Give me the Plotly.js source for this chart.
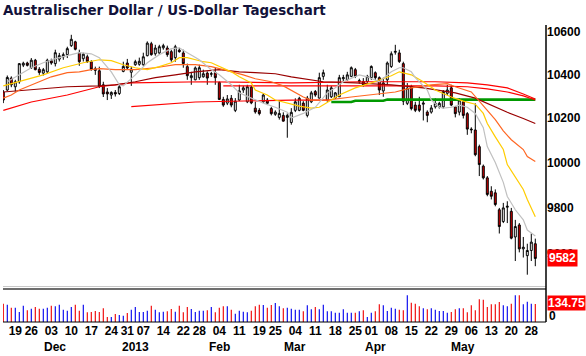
<!DOCTYPE html>
<html><head><meta charset="utf-8">
<script src="https://cdn.plot.ly/plotly-3.0.1.min.js"></script>
<style>html,body{margin:0;padding:0;background:#fff}</style>
</head><body><div id="chart" style="width:586px;height:356px"></div>
<script>
const dates = [
'2012-11-14','2012-11-15','2012-11-16','2012-11-19','2012-11-20','2012-11-21','2012-11-23','2012-11-26','2012-11-27','2012-11-28','2012-11-29','2012-11-30',
'2012-12-03','2012-12-04','2012-12-05','2012-12-06','2012-12-07','2012-12-10','2012-12-11','2012-12-12','2012-12-13','2012-12-14','2012-12-17','2012-12-18','2012-12-19','2012-12-20','2012-12-21','2012-12-24','2012-12-26','2012-12-27','2012-12-28','2012-12-31',
'2013-01-02','2013-01-03','2013-01-04','2013-01-07','2013-01-08','2013-01-09','2013-01-10','2013-01-11','2013-01-14','2013-01-15','2013-01-16','2013-01-17','2013-01-18','2013-01-22','2013-01-23','2013-01-24','2013-01-25','2013-01-28','2013-01-29','2013-01-30','2013-01-31',
'2013-02-01','2013-02-04','2013-02-05','2013-02-06','2013-02-07','2013-02-08','2013-02-11','2013-02-12','2013-02-13','2013-02-14','2013-02-15','2013-02-19','2013-02-20','2013-02-21','2013-02-22','2013-02-25','2013-02-26','2013-02-27','2013-02-28',
'2013-03-01','2013-03-04','2013-03-05','2013-03-06','2013-03-07','2013-03-08','2013-03-11','2013-03-12','2013-03-13','2013-03-14','2013-03-15','2013-03-18','2013-03-19','2013-03-20','2013-03-21','2013-03-22','2013-03-25','2013-03-26','2013-03-27','2013-03-28',
'2013-04-01','2013-04-02','2013-04-03','2013-04-04','2013-04-05','2013-04-08','2013-04-09','2013-04-10','2013-04-11','2013-04-12','2013-04-15','2013-04-16','2013-04-17','2013-04-18','2013-04-19','2013-04-22','2013-04-23','2013-04-24','2013-04-25','2013-04-26','2013-04-29','2013-04-30',
'2013-05-01','2013-05-02','2013-05-03','2013-05-06','2013-05-07','2013-05-08','2013-05-09','2013-05-10','2013-05-13','2013-05-14','2013-05-15','2013-05-16','2013-05-17','2013-05-20','2013-05-21','2013-05-22','2013-05-23','2013-05-24','2013-05-28','2013-05-29'];

const open = [10319,10328,10383,10343,10366,10443,10453,10430,10466,10424,10406,10412,10464,10450,10471,10481,10492,10534,10552,10500,
10473,10482,10459,10426,10417,10352,10319,10305,10317,10312,10414,10453,10410,10445,10447,10445,10487,10543,10496,10500,
10524,10523,10506,10478,10513,10500,10436,10385,10375,10385,10389,10406,10401,10408,10363,10285,10268,10290,10235,10282,
10328,10274,10341,10245,10235,10274,10282,10243,10217,10203,10212,10203,10180,10235,10235,10268,10212,10274,10321,10291,
10391,10282,10297,10291,10297,10380,10375,10391,10422,10366,10367,10367,10385,10408,10385,10324,10375,10437,10503,10500,
10450,10267,10344,10259,10259,10263,10227,10227,10251,10251,10251,10313,10338,10251,10227,10274,10220,10150,10146,10071,
9984,9932,9873,9866,9792,9741,9803,9785,9674,9726,9623,9594,9616,9645];
const high = [10328,10395,10391,10375,10453,10459,10459,10476,10472,10434,10430,10473,10473,10515,10500,10502,10529,10585,10557,10515,
10501,10492,10466,10436,10436,10366,10337,10322,10328,10352,10459,10472,10436,10468,10478,10501,10554,10552,10538,10538,
10543,10534,10515,10538,10524,10515,10450,10412,10437,10445,10422,10414,10412,10431,10367,10297,10305,10305,10291,10352,
10347,10352,10347,10274,10245,10313,10291,10251,10235,10277,10226,10221,10245,10290,10297,10277,10301,10324,10328,10408,
10422,10352,10347,10319,10398,10398,10412,10437,10430,10380,10383,10398,10442,10414,10391,10385,10460,10507,10538,10515,
10459,10360,10352,10274,10297,10282,10235,10259,10290,10274,10328,10352,10352,10254,10290,10282,10227,10158,10267,10080,
9991,9940,9895,9881,9800,9822,9829,9800,9748,9734,9674,9645,9689,9667];
const low = [10268,10324,10341,10321,10357,10434,10437,10425,10419,10398,10395,10403,10445,10437,10460,10468,10476,10528,10512,10440,
10460,10453,10417,10398,10337,10296,10282,10287,10298,10305,10410,10425,10347,10440,10440,10440,10484,10487,10487,10492,
10515,10482,10459,10459,10501,10431,10375,10352,10373,10375,10385,10352,10389,10352,10282,10251,10259,10249,10227,10277,
10315,10268,10263,10220,10212,10269,10259,10212,10210,10193,10184,10111,10170,10227,10231,10231,10203,10268,10297,10289,
10375,10274,10291,10287,10296,10367,10371,10387,10383,10357,10344,10361,10375,10375,10305,10297,10352,10430,10492,10453,
10259,10259,10235,10227,10227,10189,10181,10220,10243,10243,10243,10305,10254,10203,10212,10198,10124,10131,10028,9940,
9925,9851,9837,9807,9689,9734,9734,9664,9571,9608,9586,9513,9571,9549];
const close = [10282,10386,10352,10366,10450,10452,10442,10466,10422,10409,10422,10466,10453,10501,10487,10492,10520,10564,10517,10459,
10494,10459,10424,10419,10344,10310,10310,10317,10310,10343,10437,10430,10425,10459,10461,10482,10546,10492,10523,10529,
10534,10492,10468,10529,10506,10450,10394,10394,10430,10431,10403,10383,10403,10385,10285,10259,10287,10259,10277,10324,
10338,10343,10269,10228,10220,10305,10267,10220,10227,10221,10186,10212,10226,10274,10290,10235,10291,10315,10305,10385,
10408,10328,10338,10315,10385,10385,10398,10431,10391,10371,10352,10391,10437,10385,10328,10361,10453,10496,10507,10460,
10277,10337,10243,10235,10235,10268,10212,10246,10267,10267,10321,10328,10259,10220,10282,10212,10150,10147,10035,9991,
9932,9859,9851,9815,9719,9800,9807,9669,9719,9623,9630,9616,9652,9582];
const volume = [137.5,130,107.5,107.5,75,122.5,87.5,100,112.5,100,100,107.5,122.5,117.5,130,92.5,85,112.5,130,85,
130,72.5,75,82.5,75,102.5,37.5,37.5,60,52.5,47.5,67.5,92.5,112.5,75,75,85,122.5,92.5,72.5,
77.5,80,97.5,77.5,122.5,72.5,112.5,97.5,75,85,85,87.5,112.5,72.5,107.5,117.5,117.5,92.5,62.5,85,
77.5,72.5,85,117.5,130,127.5,107.5,127.5,142.5,117.5,102.5,107.5,100,92.5,92.5,80,125,95,112.5,95,
130,80,80,70,70,95,70,70,70,80,87.5,37.5,70,80,132.5,125,82.5,107.5,100,92.5,
87.5,200,145,137.5,117.5,102.5,95,102.5,92.5,82.5,82.5,70,75,95,102.5,102.5,72.5,125,87.5,170,
167.5,112.5,132.5,132.5,150,125,117.5,137.5,200,200,132.5,152.5,137.5,134.75];

// moving averages / lines at selected bars (bar index -> value)
const grayIdx = [1,4,7,10,13,16,19,22,24,27,29,30,33,36,39,42,44,46,49,52,54,57,59,62,65,68,71,72,75,78,80,81,83,85,89,91,94,97,99,100,102,103,106,107,109,110,112,114,116,118,120,121,123,125,126,128,130,131,132,133];
const grayVal = [10366,10398,10431,10454,10473,10487,10501,10496,10478,10412,10352,10347,10398,10454,10492,10520,10524,10501,10468,10422,10398,10352,10315,10291,10268,10249,10226,10200,10221,10249,10291,10315,10338,10366,10398,10389,10366,10412,10431,10431,10412,10385,10328,10282,10249,10245,10249,10259,10249,10221,10156,10071,10000,9912,9850,9792,9748,9704,9691,9678];
const yellowIdx = [0,5,10,15,20,24,27,30,33,36,39,42,44,46,50,52,54,57,59,62,63,66,68,71,74,77,79,82,84,88,92,97,99,102,105,108,112,115,118,120,121,123,125,126,128,130,131,133];
const yellowVal = [10347,10371,10398,10431,10454,10468,10464,10445,10431,10422,10436,10454,10478,10478,10459,10454,10436,10412,10389,10361,10328,10305,10282,10268,10254,10245,10249,10282,10305,10338,10361,10394,10412,10398,10366,10328,10296,10277,10263,10221,10175,10115,10058,9991,9938,9881,9837,9762];
const orangeIdx = [0,2,4,7,10,12,16,19,22,24,28,33,38,43,48,52,55,60,63,67,70,72,75,77,81,87,91,95,98,102,107,111,113,117,120,123,125,127,130,131,133];
const orangeVal = [10291,10305,10328,10352,10375,10389,10408,10412,10422,10427,10422,10422,10431,10445,10445,10436,10422,10398,10380,10366,10347,10328,10296,10282,10282,10296,10305,10315,10319,10338,10352,10357,10343,10319,10254,10193,10142,10102,10058,10027,10005];
const darkRedIdx = [0,7,16,24,28,33,38,43,48,54,59,63,68,72,80,88,97,105,109,113,118,122,126,130,133];
const darkRedVal = [10319,10328,10343,10347,10352,10366,10385,10398,10412,10422,10412,10408,10403,10389,10366,10361,10352,10338,10328,10315,10291,10259,10226,10198,10175];
const redAIdx = [0,7,16,24,32,50,72,90,108,116,121,126,130,133];
const redAVal = [10235,10273,10305,10343,10361,10366,10361,10366,10366,10361,10352,10338,10310,10287];
const redBIdx = [55,72,90,108,116,121,126,130,133];
const redBVal = [10347,10347,10347,10347,10343,10333,10319,10301,10282];
const redCIdx = [32,48,72,82];
const redCVal = [10252,10273,10282,10282];
const greenIdx = [82,87,88,95,96,133];
const greenVal = [10273,10273,10279,10279,10284,10284];

const tickDates = ['2012-11-19','2012-11-26','2012-12-03','2012-12-10','2012-12-17','2012-12-24','2012-12-31','2013-01-07','2013-01-14','2013-01-22','2013-01-28','2013-02-04','2013-02-11','2013-02-19','2013-02-25','2013-03-04','2013-03-11','2013-03-18','2013-03-25','2013-04-01','2013-04-08','2013-04-15','2013-04-22','2013-04-29','2013-05-06','2013-05-13','2013-05-20','2013-05-28'];
const tickLabels = ['19','26','03','10','17','24','31','07','14','22','28','04','11','19','25','04','11','18','25','01','08','15','22','29','06','13','20','28'];
const monthDates = ['2012-12-03','2013-01-02','2013-02-01','2013-03-01','2013-04-01','2013-05-01'];
const monthLabels = ['Dec','2013','Feb','Mar','Apr','May'];
const priceTicks = [9600,9800,10000,10200,10400,10600];
const lastClose = 9582;
const lastVolume = 134.75;

const pick = idx => idx.map(i => dates[i]);
function line(idx, val, color, width) {
  return {type:'scatter', mode:'lines', x:pick(idx), y:val, xaxis:'x', yaxis:'y',
    line:{color:color, width:width}, hoverinfo:'skip'};
}
const volColors = close.map((c,i) => c >= open[i] ? '#0000ee' : '#ee0000');

const data = [
  {type:'candlestick', x:dates, open:open, high:high, low:low, close:close, xaxis:'x', yaxis:'y',
   increasing:{line:{color:'#000', width:1}, fillcolor:'#ffffff'},
   decreasing:{line:{color:'#000', width:1}, fillcolor:'#d40000'},
   whiskerwidth:0, hoverinfo:'skip'},
  {type:'bar', x:dates, y:volume, xaxis:'x', yaxis:'y2', width:0.28,
   marker:{color:volColors, line:{width:0}}, hoverinfo:'skip'},
  line(redCIdx, redCVal, '#ff0000', 1.2),
  line(greenIdx, greenVal, '#009900', 2.6),
  line(redAIdx, redAVal, '#ff0000', 1.2),
  line(redBIdx, redBVal, '#ff0000', 1.2),
  line(darkRedIdx, darkRedVal, '#990000', 1.2),
  line(orangeIdx, orangeVal, '#ff6622', 1.2),
  line(yellowIdx, yellowVal, '#ffcc00', 1.2),
  line(grayIdx, grayVal, '#c0c0c0', 1.2)
];

const PH = 322; // plot-area height in px
const tickFont = {family:'Liberation Sans, Arial, sans-serif', size:12, color:'#000', weight:'bold'};
const annotations = monthDates.map((d,i) => ({
  xref:'x', yref:'paper', x:d, y:(PH-347)/PH, text:monthLabels[i], showarrow:false,
  xanchor:'center', yanchor:'middle', xshift:4, font:tickFont
}));
annotations.push({xref:'paper', yref:'y', x:1, y:Math.log10(lastClose), text:String(lastClose),
  showarrow:false, xanchor:'left', yanchor:'middle', xshift:1, bgcolor:'#ff0000', borderpad:1,
  font:{family:'Liberation Sans, Arial, sans-serif', size:12, color:'#fff', weight:'bold'}});
annotations.push({xref:'paper', yref:'y2', x:1, y:0, text:'0', showarrow:false,
  xanchor:'left', yanchor:'bottom', xshift:1, yshift:-3, font:tickFont});
annotations.push({xref:'paper', yref:'y2', x:1, y:lastVolume, text:lastVolume.toFixed(2),
  showarrow:false, xanchor:'left', yanchor:'middle', xshift:1, yshift:1, bgcolor:'#ff0000', borderpad:0,
  font:{family:'Liberation Sans, Arial, sans-serif', size:12, color:'#fff', weight:'bold'}});

const layout = {
  width:586, height:356,
  margin:{l:3, r:40, t:0, b:34, pad:0},
  paper_bgcolor:'#fff', plot_bgcolor:'#fff', showlegend:false, hovermode:false,
  title:{text:'Australischer Dollar / US-Dollar Tageschart', xref:'container', yref:'container',
    x:3/586, xanchor:'left', y:1-10/356, yanchor:'middle',
    font:{family:'DejaVu Sans, Verdana, sans-serif', size:13.4, color:'#12123a', weight:'bold'}},
  xaxis:{type:'category', anchor:'y2', range:[-0.075, 135.675], tickvals:tickDates, ticktext:tickLabels,
    showgrid:false, zeroline:false, showline:false, ticks:'', tickfont:tickFont, tickangle:0,
    rangeslider:{visible:false}, fixedrange:true},
  yaxis:{domain:[35/PH, 302/PH], type:'log', range:[Math.log10(9461), Math.log10(10655)], side:'right',
    tickvals:priceTicks, ticktext:priceTicks.map(String), showgrid:false, zeroline:false, showline:false,
    ticks:'', tickfont:tickFont, fixedrange:true},
  yaxis2:{domain:[0, 32/PH], range:[0,240], showticklabels:false, showgrid:false, zeroline:false,
    showline:false, ticks:'', fixedrange:true},
  shapes:[
    {type:'line', xref:'paper', yref:'paper', x0:0, x1:1, y0:(PH-286.5)/PH, y1:(PH-286.5)/PH, line:{color:'#c8c8c8', width:1}},
    {type:'line', xref:'paper', yref:'paper', x0:0, x1:1, y0:(PH-289)/PH, y1:(PH-289)/PH, line:{color:'#6e6e6e', width:2}},
    {type:'line', xref:'paper', yref:'paper', x0:0, x1:1, y0:0, y1:0, line:{color:'#000', width:1}},
    {type:'line', xref:'paper', yref:'paper', x0:1, x1:1, y0:0, y1:(PH-25)/PH, line:{color:'#000', width:1.5}}
  ],
  annotations:annotations
};
Plotly.newPlot('chart', data, layout, {staticPlot:true, displayModeBar:false});
</script></body></html>
